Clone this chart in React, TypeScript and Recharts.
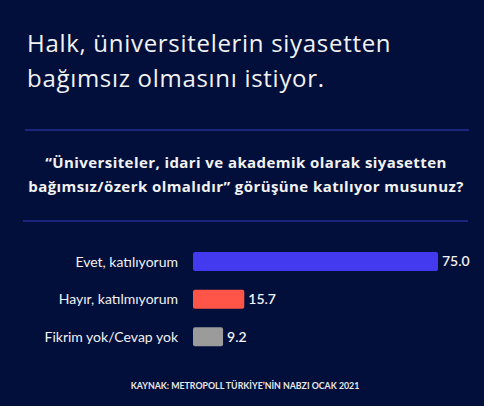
import React from "react";
import { BarChart, Bar, XAxis, YAxis, Cell, LabelList } from "recharts";

const categories = ["Evet, katılıyorum", "Hayır, katılmıyorum", "Fikrim yok/Cevap yok"];
const values = [75.0, 15.7, 9.2];
const barColors = ["#4339ee", "#ff5548", "#9b9b9b"];
const titleLines = ["Halk, üniversitelerin siyasetten", "bağımsız olmasını istiyor."];
const subtitleLines = [
  "“Üniversiteler, idari ve akademik olarak siyasetten",
  "bağımsız/özerk olmalıdır” görüşüne katılıyor musunuz?",
];
const sourceText = "KAYNAK: METROPOLL TÜRKİYE’NİN NABZI OCAK 2021";

const data = categories.map((c, i) => ({ name: c, value: values[i], color: barColors[i] }));

const BG = "#020f3b";
const LINE = "#363cc0";
const FONT = "'Open Sans', Lato, sans-serif";
const LFONT = "Lato, sans-serif";

export default function App() {
  return (
    <div
      style={{
        position: "absolute",
        left: 0,
        top: 0,
        width: 484,
        height: 406,
        background: BG,
        fontFamily: FONT,
        overflow: "hidden",
      }}
    >
      <svg width={484} height={406} style={{ position: "absolute", left: 0, top: 0 }}>
        <text x={27} y={52} fill="#f2f2f2" fontSize={24} letterSpacing={0.7} fontFamily={FONT}>
          {titleLines[0]}
        </text>
        <text x={27} y={87} fill="#f2f2f2" fontSize={24} letterSpacing={0.7} fontFamily={FONT}>
          {titleLines[1]}
        </text>
        <line x1={25} x2={469} y1={130} y2={130} stroke={LINE} strokeWidth={1.2} />
        <text x={246} y={168} fill="#f2f2f2" fontSize={15} fontWeight={700} letterSpacing={0.42} textAnchor="middle" fontFamily={FONT}>
          {subtitleLines[0]}
        </text>
        <text x={246} y={192} fill="#f2f2f2" fontSize={15} fontWeight={700} letterSpacing={0.42} textAnchor="middle" fontFamily={FONT}>
          {subtitleLines[1]}
        </text>
        <line x1={23} x2={468} y1={221} y2={221} stroke={LINE} strokeWidth={1.2} />
        <text x={245} y={389} fill="#e8e8e8" fontSize={8.8} fontWeight={700} textAnchor="middle" fontFamily={LFONT}>
          {sourceText}
        </text>
      </svg>
      <div style={{ position: "absolute", left: 0, top: 0 }}>
        <BarChart
          width={484}
          height={406}
          data={data}
          layout="vertical"
          margin={{ top: 243, right: 46, bottom: 50, left: 0 }}
          barCategoryGap={0}
        >
          <XAxis type="number" domain={[0, 75]} hide />
          <YAxis
            type="category"
            dataKey="name"
            width={193}
            axisLine={false}
            tickLine={false}
            tickSize={0}
            tickMargin={15}
            interval={0}
            tick={{ fill: "#f2f2f2", fontSize: 14, fontFamily: LFONT }}
          />
          <Bar dataKey="value" barSize={19} radius={2} isAnimationActive={false}>
            {data.map((d, i) => (
              <Cell key={i} fill={d.color} />
            ))}
            <LabelList
              dataKey="value"
              position="right"
              offset={4}
              formatter={(v: number) => v.toFixed(1)}
              style={{ fill: "#f2f2f2", fontSize: 14, fontFamily: LFONT, fontWeight: 600 }}
            />
          </Bar>
        </BarChart>
      </div>
    </div>
  );
}
